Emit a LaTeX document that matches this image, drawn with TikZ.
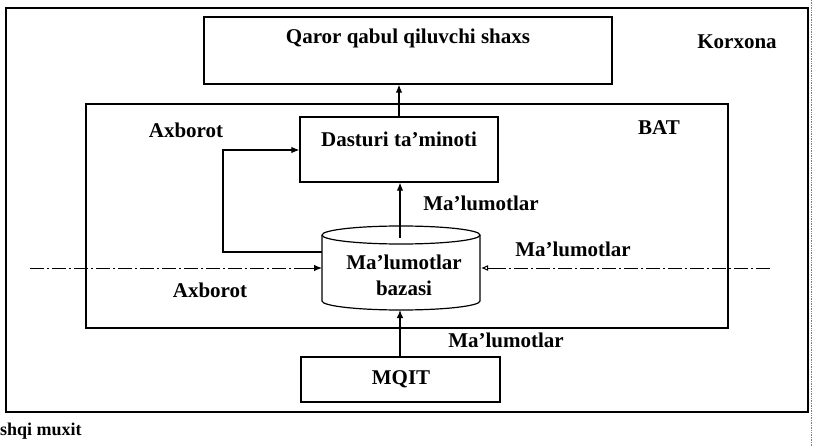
\documentclass[tikz,border=0pt]{standalone}
\usepackage{fontspec}
\setmainfont{Liberation Serif}
\usetikzlibrary{arrows.meta,calc}
\tikzset{
  frame/.style={draw, line width=1.3pt},
  box/.style={draw, line width=1.3pt, rectangle, inner sep=0pt},
  lbl/.style={font=\bfseries\fontsize{21}{24}\selectfont, inner sep=0pt},
  small/.style={font=\bfseries\fontsize{18}{20}\selectfont, inner sep=0pt},
  flow/.style={line width=1.1pt, -{Latex[length=8pt,width=6.5pt]}},
  dashdot/.style={line width=0.9pt, dash pattern=on 14pt off 3pt on 2pt off 3pt},
}
\begin{document}
\begin{tikzpicture}[x=1pt, y=-1pt]
\useasboundingbox (0,0) rectangle (813,446);
\fill[white] (0,0) rectangle (813,446);

% enterprise frame and the outer environment
\draw[frame] (6,8) rectangle (808,412);
\draw[line width=0.7pt, densely dotted, gray] (811,0) -- (811,446);
\node[small, anchor=west] (env) at (0,431) {shqi muxit};
\node[lbl] (korx) at (737,42) {Korxona};

% decision maker
\node[box, minimum width=408pt, minimum height=67pt] (qq) at (408,50.5) {};
\node[lbl] (qqt) at (408,38) {Qaror qabul qiluvchi shaxs};

% BAT block
\draw[frame] (86,104) rectangle (728,328);
\node[lbl] (bat) at (659,128) {BAT};
\node[lbl] (ax1) at (186,130) {Axborot};

% software
\node[box, minimum width=198pt, minimum height=65pt] (dt) at (399,149.5) {};
\node[lbl] (dtt) at (399,139) {Dasturi ta'minoti};

% database cylinder
\node[minimum width=158pt, minimum height=84pt, inner sep=0pt] (db) at (401,268) {};
\draw[line width=1.2pt, fill=white]
  (322,235) -- (322,301) arc[start angle=180, end angle=360, x radius=79pt, y radius=9pt]
  -- (480,235) arc[start angle=0, end angle=180, x radius=79pt, y radius=9pt];
\draw[line width=1.2pt] (322,235) arc[start angle=180, end angle=360, x radius=79pt, y radius=9pt];
\node[lbl, align=center] (dbt) at (404,275) {Ma'lumotlar\\[2pt]bazasi};

% external data source
\node[box, minimum width=199pt, minimum height=45pt] (mq) at (400.5,379.5) {};
\node[lbl] (mqt) at (401,379) {MQIT};

% flows
\coordinate (dbtop) at (400,238);
\coordinate (dbbot) at (400,310);
\draw[flow] (dt.north) -- (dt.north |- qq.south);
\draw[flow] (dbtop) -- (dt.south -| dbtop);
\draw[flow] (mq.north -| dbbot) -- (dbbot);
\coordinate (lp1) at (322,252);
\coordinate (lp2) at (223,252);
\coordinate (lp3) at (223,150);
\draw[flow] (lp1) -- (lp2) -- (lp3) -- (lp3 -| dt.west);

\coordinate (inL) at (30,268);
\coordinate (inR) at (770,268);
\coordinate (tipL) at (322,268);
\coordinate (tipR) at (481,268);
\draw[dashdot] (inL) -- (318,268);
\draw[-{Latex[length=8pt,width=6.5pt]}, line width=1pt] (305,268) -- (tipL);
\draw[dashdot] (inR) -- (488,268);
\draw[-{Latex[open,length=7pt,width=6pt]}, line width=1pt] (496,268) -- (tipR);

% flow labels
\node[lbl] (m1) at (481,203) {Ma'lumotlar};
\node[lbl] (m2) at (573,249) {Ma'lumotlar};
\node[lbl] (m3) at (506,340) {Ma'lumotlar};
\node[lbl] (ax2) at (210,290) {Axborot};
\end{tikzpicture}
\end{document}
